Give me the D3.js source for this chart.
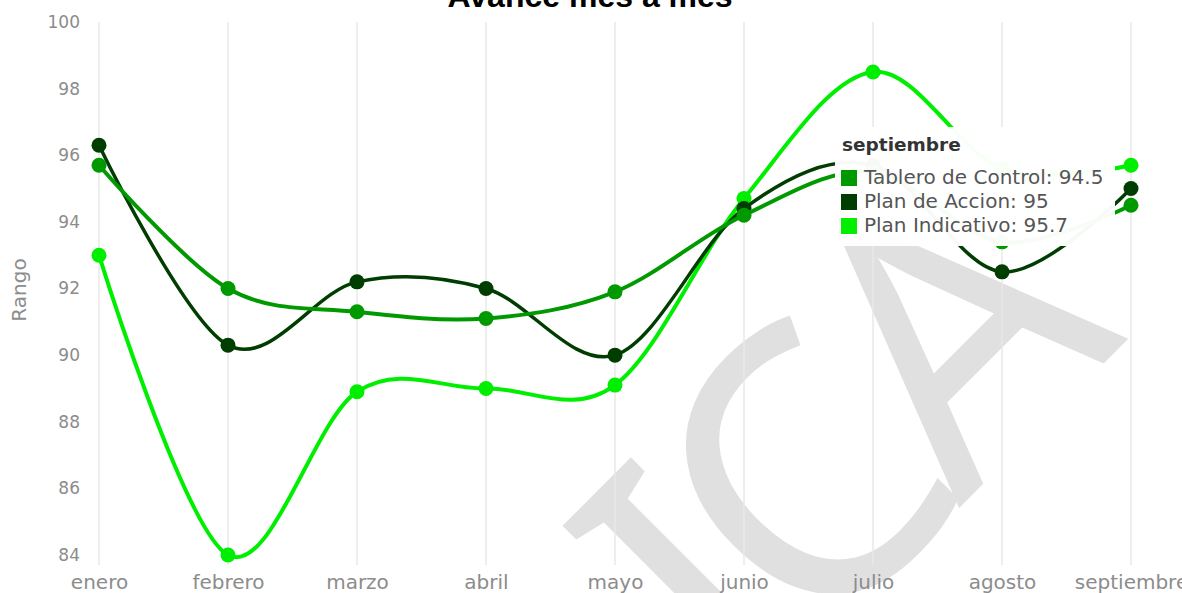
<!DOCTYPE html>
<html>
<head>
<meta charset="utf-8">
<script src="https://cdn.jsdelivr.net/npm/d3@7"></script>
<style>
  body { margin: 0; background: #fff; overflow: hidden; }
  svg { display: block; }
  text { font-family: "DejaVu Sans", sans-serif; }
</style>
</head>
<body>
<svg id="chart"></svg>
<script>
const months = ['enero', 'febrero', 'marzo', 'abril', 'mayo', 'junio', 'julio', 'agosto', 'septiembre'];
const tableroValues = [95.7, 92.0, 91.3, 91.1, 91.9, 94.2, 95.5, 93.4, 94.5];
const accionValues = [96.3, 90.3, 92.2, 92.0, 90.0, 94.4, 95.7, 92.5, 95.0];
const indicativoValues = [93.0, 84.0, 88.9, 89.0, 89.1, 94.7, 98.5, 95.6, 95.7];
const yTickValues = [84, 86, 88, 90, 92, 94, 96, 98, 100];
const seriesNames = ['Tablero de Control', 'Plan de Accion', 'Plan Indicativo'];
const seriesColors = ['#009a00', '#003d00', '#00ee00'];
const tooltipMonth = 'septiembre';

const width = 1182;
const height = 593;

const svg = d3.select('#chart')
    .attr('width', width)
    .attr('height', height);

// Scales setup
const xscale = d3.scalePoint().domain(months).range([99, 1131]);
const yscale = d3.scaleLinear().domain([84, 100]).range([555, 22]);

// watermark behind everything
svg.append('text')
    .attr('transform', 'translate(925,542) rotate(-45)')
    .attr('text-anchor', 'middle')
    .style('font-family', '"Noto Sans", sans-serif')
    .style('font-size', '375px')
    .attr('letter-spacing', -28)
    .attr('fill', '#e0e0e0')
    .text('ICA');

// vertical grid
svg.append('g').selectAll('line').data(months).enter().append('line')
    .attr('x1', (d) => xscale(d))
    .attr('x2', (d) => xscale(d))
    .attr('y1', 22)
    .attr('y2', 565)
    .attr('stroke', '#e8e8e8')
    .attr('stroke-width', 1.5);

// y axis (labels only)
const yaxis = d3.axisLeft(yscale).tickValues(yTickValues).tickSize(0).tickPadding(0);
const g_yaxis = svg.append('g')
    .attr('transform', 'translate(80,0)')
    .call(yaxis);
g_yaxis.select('.domain').remove();
g_yaxis.selectAll('text')
    .attr('fill', '#8c8c8c')
    .style('font-family', '"DejaVu Sans", sans-serif')
    .style('font-size', '17px');

// x axis (labels only)
const xaxis = d3.axisBottom(xscale).tickSize(0).tickPadding(0);
const g_xaxis = svg.append('g')
    .attr('transform', 'translate(0,575)')
    .call(xaxis);
g_xaxis.select('.domain').remove();
g_xaxis.selectAll('text')
    .attr('fill', '#8c8c8c')
    .style('font-family', '"DejaVu Sans", sans-serif')
    .style('font-size', '20px');

svg.append('text')
    .attr('transform', 'translate(26,290) rotate(-90)')
    .attr('text-anchor', 'middle')
    .attr('fill', '#8c8c8c')
    .style('font-size', '20px')
    .text('Rango');

// series table built from the arrays
const series = [
    { name: seriesNames[0], color: seriesColors[0], width: 4, values: tableroValues },
    { name: seriesNames[1], color: seriesColors[1], width: 3.5, values: accionValues },
    { name: seriesNames[2], color: seriesColors[2], width: 4, values: indicativoValues }
];
const drawOrder = [series[2], series[1], series[0]];

const line = d3.line()
    .x((d, i) => xscale(months[i]))
    .y((d) => yscale(d))
    .curve(d3.curveCardinal.tension(0));

const gSeries = svg.append('g').selectAll('g').data(drawOrder).enter().append('g');
gSeries.append('path')
    .attr('d', (d) => line(d.values))
    .attr('fill', 'none')
    .attr('stroke', (d) => d.color)
    .attr('stroke-width', (d) => d.width);
gSeries.selectAll('circle').data((d) => d.values.map((v, i) => ({ v, i, color: d.color })))
    .enter().append('circle')
    .attr('cx', (d) => xscale(months[d.i]))
    .attr('cy', (d) => yscale(d.v))
    .attr('r', 7.5)
    .attr('fill', (d) => d.color);

// tooltip for septiembre
const tipIndex = months.indexOf(tooltipMonth);
const tip = svg.append('g').attr('transform', 'translate(835,127)');
tip.append('rect')
    .attr('width', 280)
    .attr('height', 119)
    .attr('fill', '#fff')
    .attr('opacity', 0.97);
tip.append('text')
    .attr('x', 7)
    .attr('y', 24)
    .attr('fill', '#333')
    .style('font-weight', 'bold')
    .style('font-size', '18.5px')
    .text(tooltipMonth);
const rows = tip.selectAll('g.row').data(series).enter().append('g')
    .attr('class', 'row')
    .attr('transform', (d, i) => `translate(6,${43 + i * 24})`);
rows.append('rect')
    .attr('width', 16)
    .attr('height', 16)
    .attr('fill', (d) => d.color);
rows.append('text')
    .attr('x', 23)
    .attr('y', 14)
    .attr('fill', '#555')
    .style('font-size', '20px')
    .text((d) => `${d.name}: ${d.values[tipIndex]}`);

// title, cut at the top edge
svg.append('text')
    .attr('x', 590)
    .attr('y', 7)
    .attr('text-anchor', 'middle')
    .attr('fill', '#000')
    .style('font-family', '"Liberation Sans", Arial, sans-serif')
    .style('font-weight', 'bold')
    .style('font-size', '32px')
    .text('Avance mes a mes');
</script>
</body>
</html>
